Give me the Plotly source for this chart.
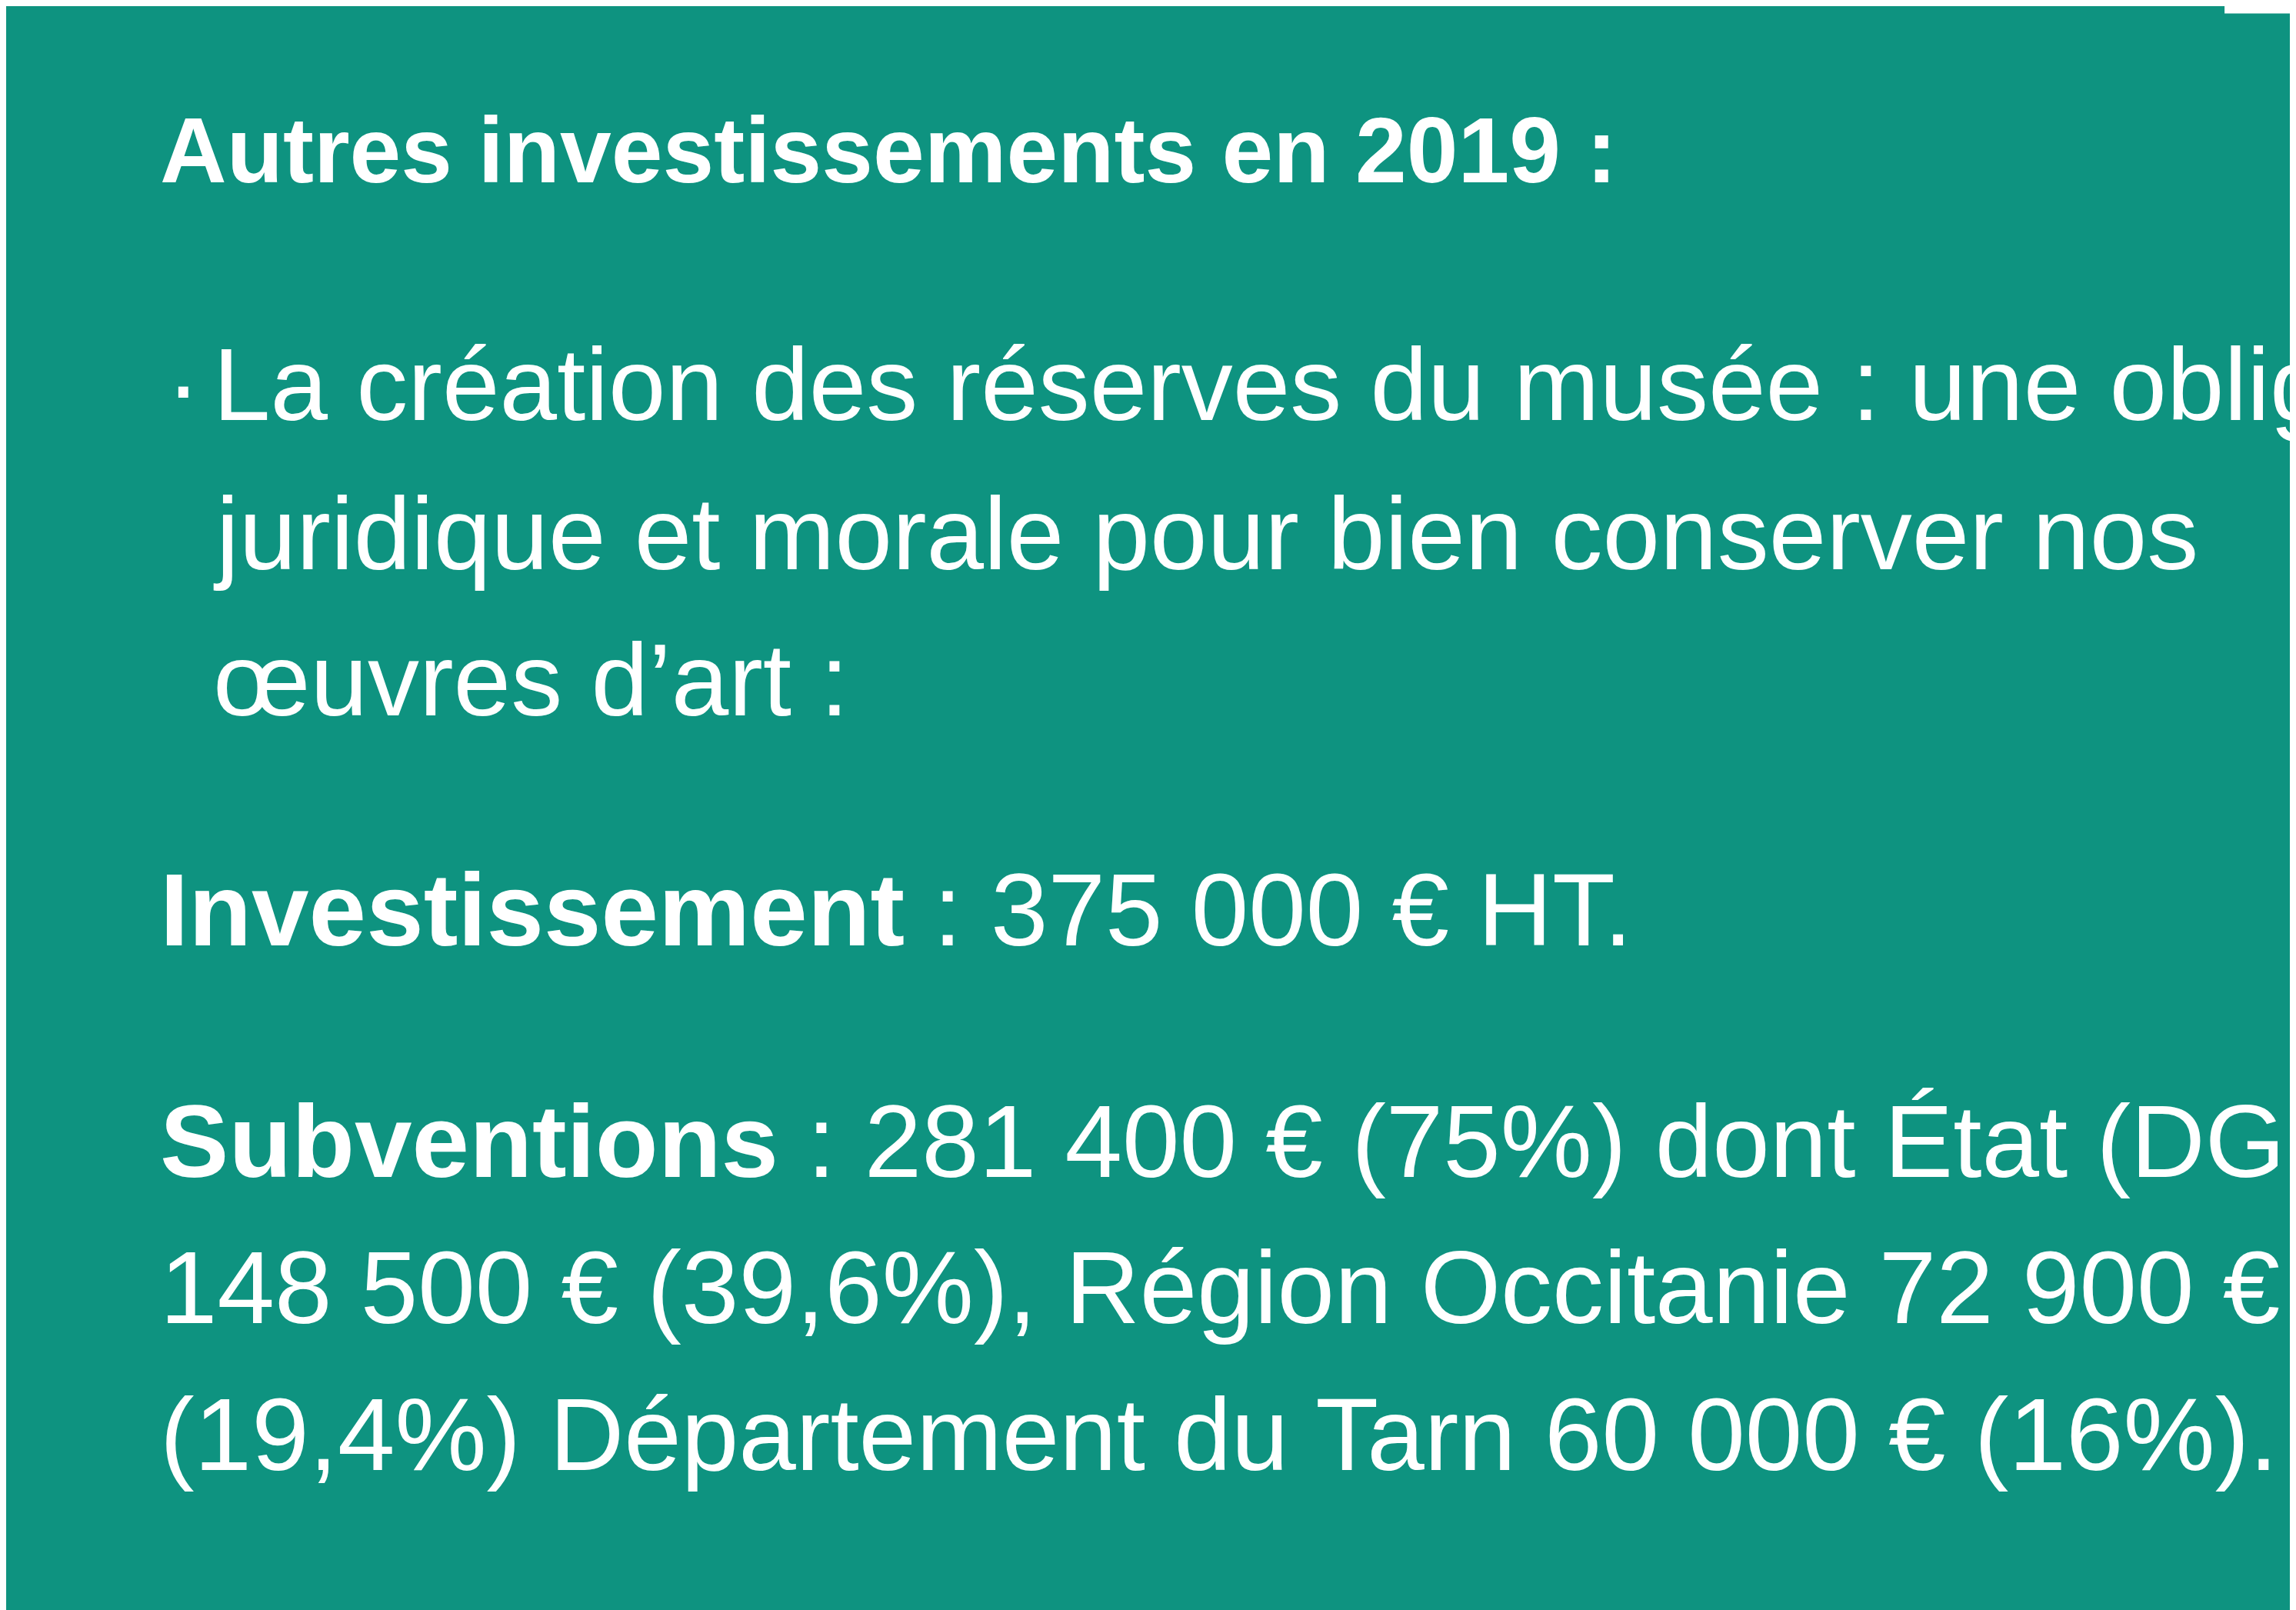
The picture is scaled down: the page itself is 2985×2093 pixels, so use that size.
import plotly.graph_objects as go

W, H = 2985, 2093
S = 2985 / 1568
BG = "#0E9380"
FONT = "Liberation Sans, Arial, sans-serif"

title = "Autres investissements en 2019 :"
project_lines = ["La création des réserves du musée : une obligation",
                 "juridique et morale pour bien conserver nos",
                 "œuvres d’art :"]
investment = "375 000 € HT."
total_subv = "281 400 €"
total_pct = "75%"
funders = ["État (DGD)", "Région Occitanie", "Département du Tarn"]
amounts = ["148 500 €", "72 900 €", "60 000 €"]
percents = ["39,6%", "19,4%", "16%"]

fig = go.Figure()
fig.update_xaxes(visible=False, range=[0, 1])
fig.update_yaxes(visible=False, range=[0, 1])

def add(txt, xd, yd, size=134):
    fig.add_annotation(x=xd * S / W, y=1 - yd * S / H, xref="paper", yref="paper",
                       text=txt, showarrow=False, xanchor="left", yanchor="middle",
                       font=dict(family=FONT, size=size, color="white"))

add(f"<b>{title}</b>", 104, 98, size=120)
add("·", 108, 258)
ys = [258, 360, 460]
for t, y in zip(project_lines, ys):
    add(t, 140, y)
add(f"<b>Investissement</b> : {investment}", 104, 617)
add(f"<b>Subventions</b> : {total_subv} ({total_pct}) dont {funders[0]}", 104, 775)
add(f"{amounts[0]} ({percents[0]}), {funders[1]} {amounts[1]}", 104, 875)
add(f"({percents[1]}) {funders[2]} {amounts[2]} ({percents[2]}).", 104, 975)

fig.add_shape(type="rect", xref="paper", yref="paper",
              x0=1515 * S / W, x1=1, y0=1 - 5 * S / H, y1=1,
              fillcolor="white", line_width=0)

fig.update_layout(width=W, height=H, margin=dict(l=0, r=0, t=0, b=0),
                  paper_bgcolor=BG, plot_bgcolor=BG, showlegend=False)
fig.write_html("out.html")
